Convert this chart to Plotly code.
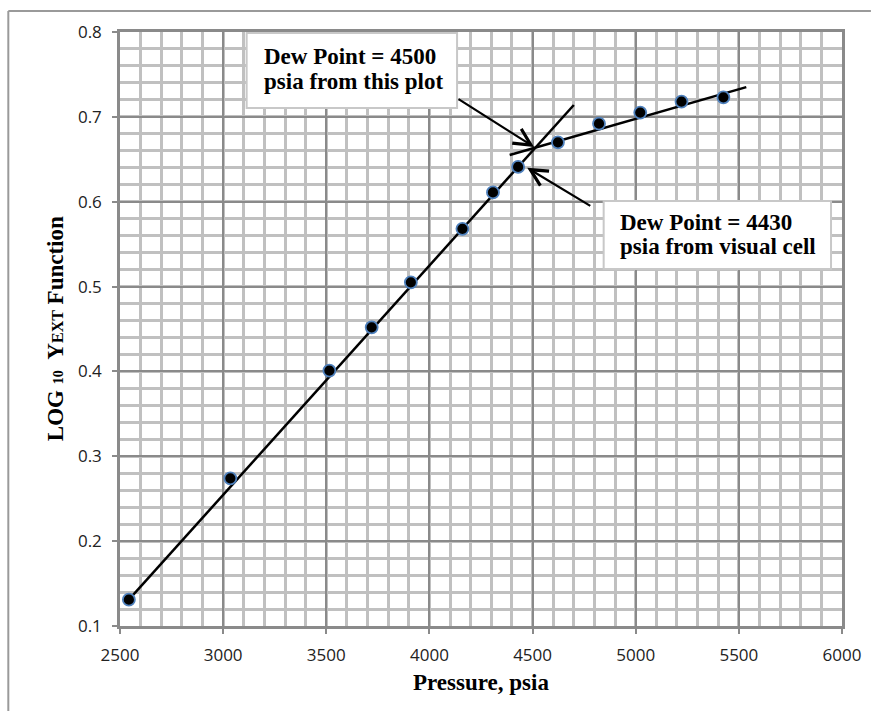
import plotly.graph_objects as go

# ---- data ----
pressure = [2543, 3035, 3515, 3720, 3910, 4160, 4308, 4430, 4623, 4822, 5022, 5222, 5425]
log_y = [0.131, 0.274, 0.401, 0.452, 0.505, 0.568, 0.611, 0.641, 0.670, 0.692, 0.705, 0.718, 0.723]

trend1_x = [2543, 4700]
trend1_y = [0.131, 0.714]
trend2_x = [4389, 5536]
trend2_y = [0.655, 0.735]

x_ticks = [2500, 3000, 3500, 4000, 4500, 5000, 5500, 6000]
y_ticks = [0.1, 0.2, 0.3, 0.4, 0.5, 0.6, 0.7, 0.8]

box1_lines = ["Dew Point = 4500", "psia from this plot"]
box2_lines = ["Dew Point = 4430", "psia from visual cell"]
arrow1_head = (4507, 0.6645)
arrow1_tail = (4134, 0.722)
arrow2_head = (4474, 0.640)
arrow2_tail = (4787, 0.594)

W, H = 873, 711
L, R, T, B = 120, 29, 32, 85
PW, PH = W - L - R, H - T - B


def px(xp):
    return (xp - L) / PW


def py(yp):
    return (H - B - yp) / PH


SERIF = "Liberation Serif"
MAJOR = "#8a8a8a"
MINOR = "#c0c0c0"

fig = go.Figure()
fig.add_trace(go.Scatter(x=trend1_x, y=trend1_y, mode="lines",
                         line=dict(color="black", width=2.5), showlegend=False))
fig.add_trace(go.Scatter(x=trend2_x, y=trend2_y, mode="lines",
                         line=dict(color="black", width=2.5), showlegend=False))
fig.add_trace(go.Scatter(x=pressure, y=log_y, mode="markers",
                         marker=dict(size=12, color="black",
                                     line=dict(color="#4f81bd", width=1.8)),
                         showlegend=False))

axis_common = dict(
    showgrid=True, gridcolor=MAJOR, gridwidth=2,
    showline=True, linecolor=MAJOR, linewidth=2.5, mirror=True,
    ticks="outside", ticklen=5, tickcolor=MAJOR, tickwidth=2,
    tickfont=dict(family="Open Sans", size=17, color="#222222"),
    zeroline=False, ticklabelstandoff=7,
)
fig.update_xaxes(range=[2500, 6000], tickvals=x_ticks,
                 ticktext=[str(v) for v in x_ticks],
                 minor=dict(dtick=100, showgrid=True, gridcolor=MINOR, gridwidth=3, ticks=""),
                 **axis_common)
fig.update_yaxes(range=[0.1, 0.8], tickvals=y_ticks,
                 ticktext=[f"{v:.1f}" for v in y_ticks],
                 minor=dict(dtick=0.02, showgrid=True, gridcolor=MINOR, gridwidth=3, ticks=""),
                 **axis_common)

shapes = []
# outer frame (top and left visible)
shapes.append(dict(type="line", xref="paper", yref="paper",
                   x0=px(8), x1=px(873), y0=py(11), y1=py(11),
                   line=dict(color="#9a9a9a", width=2)))
shapes.append(dict(type="line", xref="paper", yref="paper",
                   x0=px(8), x1=px(8), y0=py(11), y1=py(711),
                   line=dict(color="#9a9a9a", width=2)))
# text boxes
shapes.append(dict(type="rect", xref="paper", yref="paper",
                   x0=px(247), x1=px(458), y0=py(108), y1=py(33),
                   fillcolor="white", line=dict(color="#c8c8c8", width=2), layer="above"))
shapes.append(dict(type="rect", xref="paper", yref="paper",
                   x0=px(605), x1=px(833), y0=py(269), y1=py(201),
                   fillcolor="white", line=dict(color="#c8c8c8", width=2), layer="above"))

annotations = []
for i, t in enumerate(box1_lines):
    annotations.append(dict(xref="paper", yref="paper", x=px(262), y=py(57 + 25 * i),
                            xanchor="left", yanchor="middle", showarrow=False,
                            text=f"<b>{t}</b>",
                            font=dict(family=SERIF, size=23, color="black")))
for i, t in enumerate(box2_lines):
    annotations.append(dict(xref="paper", yref="paper", x=px(619), y=py(222 + 25 * i),
                            xanchor="left", yanchor="middle", showarrow=False,
                            text=f"<b>{t}</b>",
                            font=dict(family=SERIF, size=23, color="black")))
for head, tail in [(arrow1_head, arrow1_tail), (arrow2_head, arrow2_tail)]:
    annotations.append(dict(x=head[0], y=head[1], ax=tail[0], ay=tail[1],
                            xref="x", yref="y", axref="x", ayref="y",
                            text="", showarrow=True, arrowhead=5, arrowsize=1.5,
                            arrowwidth=2.2, arrowcolor="black"))
# axis titles
annotations.append(dict(xref="paper", yref="paper", x=0.5, y=py(682),
                        xanchor="center", yanchor="middle", showarrow=False,
                        text="<b>Pressure, psia</b>",
                        font=dict(family=SERIF, size=23, color="black")))
annotations.append(dict(xref="paper", yref="paper", x=px(55), y=0.5,
                        xanchor="center", yanchor="middle", showarrow=False, textangle=-90,
                        text="<b>LOG <span style='font-size:14px'>10</span>  Y<span style='font-size:16px'>EXT</span> Function</b>",
                        font=dict(family=SERIF, size=23, color="black")))

fig.update_layout(
    width=W, height=H,
    margin=dict(l=L, r=R, t=T, b=B),
    paper_bgcolor="white", plot_bgcolor="white",
    shapes=shapes, annotations=annotations,
    showlegend=False,
)

fig.write_html("out.html")
